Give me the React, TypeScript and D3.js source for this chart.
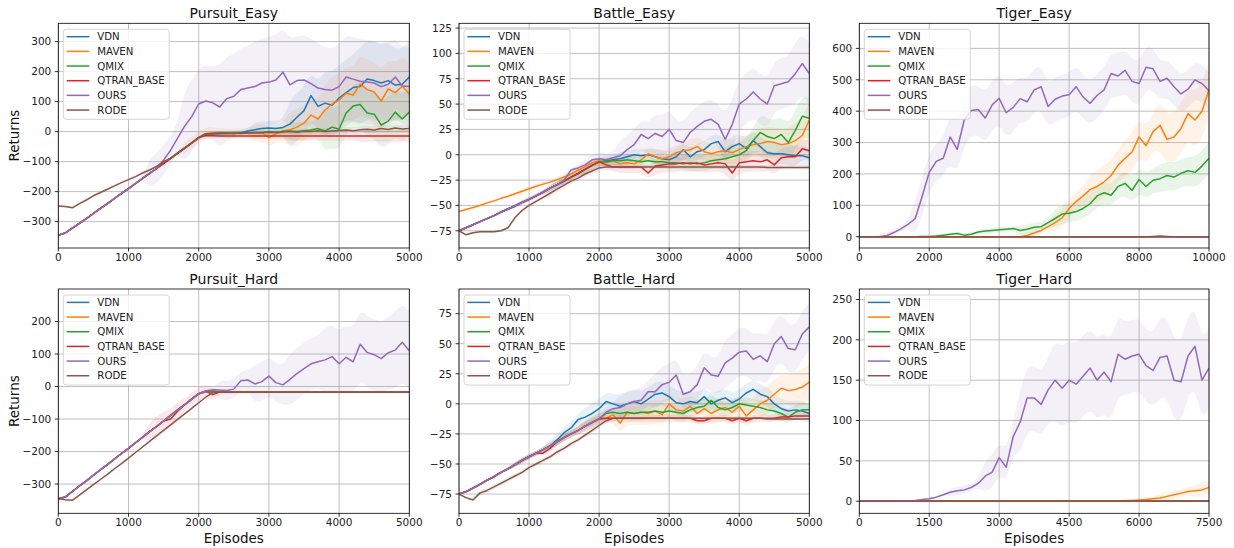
import React from 'react';
import * as d3 from 'd3';

const NAMES = ['VDN', 'MAVEN', 'QMIX', 'QTRAN_BASE', 'OURS', 'RODE'];
const COLORS = ['#1f77b4', '#ff7f0e', '#2ca02c', '#d62728', '#9467bd', '#8c564b'];

// ---------------- Pursuit_Easy (step 100, 0..5000) ----------------
const peRamp = [-345,-338,-322,-306,-290,-273,-256,-240,-223,-206,-190,-173,-156,-139,-123,-106,-89,-72,-55,-38,-20];
const peVDN = [...peRamp, -10,-8,-7,-6,-6,-4,2,6,10,12, 10,14,25,48,70,120,84,95,88,112, 130,147,150,175,170,162,170,155,158,182];
const peMAVEN = [...peRamp, -6,-5,-5,-4,-6,-5,-4,-5,-3,-20, -8,2,6,15,28,55,42,72,92,105, 128,122,158,140,132,102,142,130,152,125];
const peQMIX = [...peRamp, -7,-6,-5,-6,-5,-6,-5,-4,-3,0, -2,0,2,0,3,5,10,2,15,8, 62,85,90,62,58,22,35,65,42,65];
const peQTRAN = [...peRamp, -13,-14,-15,-15,-15,-15,-15,-15,-15,-15, -15,-15,-15,-15,-15,-15,-15,-15,-15,-15, -15,-15,-15,-15,-15,-15,-15,-15,-15,-15];
const peOURS = [-345,-338,-322,-306,-290,-273,-256,-240,-223,-206,-190,-173,-156,-139,-123, -95,-62,-22,18,50,92, 102,96,82,110,118,140,145,150,162,165, 172,198,156,170,172,160,145,140,138,150, 182,175,168,165,162,150,158,182,152,150];
const peRODE = [-248,-250,-254,-240,-228,-214,-203,-192,-181,-170,-160,-150,-138,-128,-116,-100,-89,-72,-55,-38,-20, -8,-6,-5,-5,-6,-4,-5,-3,-4,-2, -3,-1,0,-2,1,0,3,0,2,4, 5,3,6,8,5,10,7,12,9,10];
const peBands = [
  [3,3,3,3,5,8,25,80,110,130,120],
  [3,3,3,3,20,15,30,60,90,100,100],
  [3,3,3,3,5,8,15,30,70,80,80],
  [3,3,3,3,5,8,10,15,15,20,20],
  [3,3,3,50,120,140,150,150,140,140,130],
  [3,3,3,3,5,5,8,10,10,12,12],
];

// ---------------- Battle_Easy (step 100, 0..5000) ----------------
const beRamp = [-75,-72,-69,-66,-63,-60,-56.5,-53.5,-50.5,-47,-44,-40.5,-37,-33,-29.5,-26,-22,-18.5,-14.5,-10.5,-7];
const beVDN = [...beRamp, -6,-5,-4,-2,0,-1,0,-2,-4,-5, -2,5,-2,3,5,11,13,3,8,11, 6,14,8,2,1,1,0,-1,-1,-3];
const beMAVEN = [-56,-54,-52,-50,-47.5,-45.5,-43,-41,-38.5,-36,-33.5,-31,-29,-27,-24.5,-22, -19,-15,-12,-8,-6, -8,-6,-9,-8,-9,-5,1,-2,-4,-2, 2,4,5,8,3,1,3,4,2,5, 8,10,11,13,12,10,11,14,19,34];
const beQMIX = [...beRamp, -7,-6,-6,-5,-6,-7,-6,-7,-7,-8, -8,-9,-8,-9,-8,-6,-5,-4,-2,0, 4,14,22,18,16,20,12,24,38,36];
const beQTRAN = [...beRamp, -10,-12,-12,-12,-12,-12,-18,-11,-10,-9, -9,-8,-9,-8,-10,-9,-8,-9,-18,-8, -7,-6,-7,-5,-10,-3,-2,-2,6,4];
const beOURS = [-75,-72,-69,-66,-63,-60,-56.5,-53.5,-50.5,-47,-44,-40.5,-37,-33,-29.5, -25,-15,-13,-10,-5,-4, -5,-3,-1,5,10,20,16,21,18,25, 14,12,22,28,33,35,30,15,30,50, 55,62,55,50,68,70,72,80,90,80];
const beRODE = [-75,-79,-77,-76,-76,-76,-75,-72,-62,-55,-50,-46,-42,-38,-34,-30,-26,-23,-19,-16,-13, -12,-12,-12,-12,-12,-12,-12,-12,-12,-12, -12,-12,-12,-12,-12,-12,-12,-12,-12,-12, -12,-12,-12,-12.5,-12.5,-12.5,-12.5,-12.5,-12.5,-12.5];
const beBands = [
  [1,1,2,3,5,6,8,8,10,10,10],
  [1,1,2,3,4,6,8,10,12,15,18],
  [1,1,2,3,4,6,6,8,12,18,20],
  [1,1,2,3,4,6,8,8,10,10,10],
  [1,1,2,3,6,15,20,20,25,25,30],
  [1,1,2,3,3,2,2,2,2,2,2],
];

// ---------------- Tiger_Easy (step 200, 0..10000) ----------------
const teVDN = [0,0,0,0,0,0,0,0,0,0, 0,0,0,0,0,0,0,0,0,0, 0,0,0,0,0,0,0,0,0,0, 0,0,0,0,0,0,0,0,0,0, 0,0,0,0,0,0,0,0,0,0, 0];
const teMAVEN = [0,0,0,0,0,0,0,0,0,0, 0,0,0,0,0,0,0,0,0,0, 0,0,0,0, 4,12,20,32,45,60,90,112,130,150,160,175,195,228,250,270,318,290,335,355,310,318,345,392,372,400,470];
const teQMIX = [0,0,0,0,0,0,0,0,0,1,1, 2,5,8,10,5,8,15,18,20,22, 24,26,20,24,30,32,45,58,72,75, 80,90,105,130,140,132,160,170,148,182, 160,180,185,195,190,202,210,205,225,250];
const teQTRAN = [0,0,0,0,0,0,0,0,0,0, 0,0,0,0,0,0,0,0,0,0, 0,0,0,0,0,0,0,0,0,0, 0,0,0,0,0,0,0,0,0,0, 0,0,0,0,0,0,0,0,0,0, 0];
const teOURS = [0,0,0,1,4,14,26,40,58,130,205, 240,250,318,278,372,402,405,378,420,441, 395,412,440,430,468,478,415,438,448,452, 478,445,425,450,468,520,512,530,495,488, 540,535,495,505,478,455,470,500,488,465];
const teRODE = [0,0,0,0,0,0,0,0,0,0, 0,0,0,0,0,0,0,0,0,0, 0,0,0,0,0,0,0,0,0,0, 0,0,0,0,0,0,0,0,0,0, 0,0,1,2,1,0,0,0,0,0, 0];
const teBands = [
  [1,1,1,1,1,1,1,1,1,1,1],
  [0,0,0,0,0,10,30,50,60,80,90],
  [0,0,3,5,8,15,30,35,40,45,50],
  [1,1,1,1,1,1,1,1,1,1,1],
  [0,10,60,80,80,70,70,70,70,60,60],
  [1,1,1,1,1,1,1,1,1,1,1],
];

// ---------------- Pursuit_Hard (step 100, 0..5000) ----------------
const phRamp = [-345,-340,-323,-306,-290,-273,-256,-240,-223,-206,-190,-173,-156,-139,-123,-106,-89,-72,-56,-39,-22];
const phVDN = [...phRamp, -16,-15,-17,-18,-18,-18,-18,-18,-18,-18, -18,-18,-18,-18,-18,-18,-18,-18,-18,-18, -18,-18,-18,-18,-18,-18,-18,-18,-18,-18];
const phMAVEN = [...phRamp, -16,-15,-17,-18,-18,-18,-18,-18,-18,-18, -18,-18,-18,-18,-18,-18,-18,-18,-18,-18, -18,-18,-18,-18,-18,-18,-18,-18,-18,-18];
const phQMIX = [...phRamp, -15,-14,-17,-18,-18,-18,-18,-18,-18,-18, -18,-18,-18,-18,-18,-18,-18,-18,-18,-18, -18,-18,-18,-18,-18,-18,-18,-18,-18,-18];
const phQTRAN = [-345,-340,-323,-306,-290,-273,-256,-240,-223,-206,-190,-173,-156,-139,-123,-106,-100,-76,-56,-39,-22, -14,-25,-17,-18,-18,-18,-18,-18,-18,-18, -18,-18,-18,-18,-18,-18,-18,-18,-18,-18, -18,-18,-18,-18,-18,-18,-18,-18,-18,-18];
const phOURS = [...phRamp, -14,-10,-11,-12,-8,18,20,8,15,32, 12,5,22,40,55,70,76,82,92,70, 90,76,130,105,98,86,104,112,136,110];
const phRODE = [-345,-348,-350,-334,-318,-302,-286,-270,-253,-237,-220,-203,-186,-169,-152,-135,-118,-101,-84,-67,-50, -33,-18,-18,-18,-18,-18,-18,-18,-18,-18, -18,-18,-18,-18,-18,-18,-18,-18,-18,-18, -18,-18,-18,-18,-18,-18,-18,-18,-18,-18];
const phBands = [
  [2,2,2,2,2,2,2,2,2,2,2],
  [2,2,2,2,2,2,2,2,2,2,2],
  [2,2,2,2,2,2,2,2,2,2,2],
  [2,2,3,30,20,5,3,3,3,3,3],
  [2,2,2,3,5,30,60,80,100,110,120],
  [2,2,2,2,2,2,2,2,2,2,2],
];

// ---------------- Battle_Hard (step 100, 0..5000) ----------------
const bhRamp = [-75,-73,-70,-67,-63.5,-60.5,-57,-54,-50.5,-47,-44,-41,-38,-35,-31.5,-28,-25,-22,-18.5,-15.5,-12.5];
const bhVDN = [-75,-73,-70,-67,-63.5,-60.5,-57,-54,-50.5,-47,-44,-41,-38,-35, -30,-24,-20,-13,-11,-8,-4, 2,0,-2,0,2,0,4,8,9,6, 1,0,2,1,6,0,3,5,1,4, 9,12,8,6,0,-4,-6,-5,-6,-8];
const bhMAVEN = [...bhRamp, -12,-9,-16,-7,-8,-7,-8,-6,-9,0, -5,-6,-2,-8,-4,-8,-5,-3,-7,-2, -10,-5,0,3,8,13,11,12,14,18];
const bhQMIX = [...bhRamp, -8,-7,-8,-7,-8,-7,-7,-6,-7,-6, -7,-8,-5,-3,-2,3,-3,-5,-3,0, -1,-2,-3,-5,-6,-8,-11,-7,-5,-5];
const bhQTRAN = [-75,-73,-70,-67,-63.5,-60.5,-57,-54,-50.5,-47,-44,-41,-41,-37,-31.5,-28,-25,-22,-18.5,-15.5,-12.5, -12,-12,-12,-12,-12,-12,-12,-12,-12,-12, -12,-12,-12,-14,-14,-12,-12,-12,-14,-12, -14,-12,-12,-12,-12,-11,-11,-10,-10,-10];
const bhOURS = [...bhRamp, -7,-4,-3,0,2,3,10,10,16,18, 24,8,10,16,30,24,23,34,38,43, 44,37,40,35,50,56,46,45,58,64];
const bhRODE = [-75,-78,-80,-74,-72,-69,-66,-63,-60,-57,-53,-50,-47,-44,-40,-37,-33,-30,-26,-22,-18, -14,-12,-12,-12,-12,-12,-12,-12,-12,-12, -12,-12,-12,-12,-12,-12,-12,-12,-12,-12, -12,-12,-12,-12.5,-12.5,-12.5,-12.5,-12.5,-12.5,-12.5];
const bhBands = [
  [1,1,2,5,8,10,10,8,8,8,8],
  [1,1,2,3,5,10,10,10,10,12,15],
  [1,1,2,3,4,6,6,6,6,6,6],
  [1,1,2,3,3,3,3,3,3,3,3],
  [1,1,2,3,5,10,15,15,20,20,20],
  [1,2,2,2,2,1,1,1,1,1,1],
];

// ---------------- Tiger_Hard (step 150, 0..7500) ----------------
const thVDN = [0,0,0,0,0,0,0,0,0,0, 0,0,0,0,0,0,0,0,0,0, 0,0,0,0,0,0,0,0,0,0, 0,0,0,0,0,0,0,0,0,0, 0,0,0,0,0,0,0,0,0,0, 0];
const thMAVEN = [0,0,0,0,0,0,0,0,0,0, 0,0,0,0,0,0,0,0,0,0, 0,0,0,0,0,0,0,0,0,0, 0,0,0,0,0,0,0, 0.3,0.6,1,1.5,2,3,4,6,8,10,12,13,14,17];
const thQMIX = [0,0,0,0,0,0,0,0,0,0, 0,0,0,0,0,0,0,0,0,0, 0,0,0,0,0,0,0,0,0,0, 0,0,0,0,0,0,0,0,0,0, 0,0,0,0,0,0,0,0,0,0, 0];
const thQTRAN = [0,0,0,0,0,0,0,0,0,0, 0,0,0,0,0,0,0,0,0,0, 0,0,0,0,0,0,0,0,0,0, 0,0,0,0,0,0,0,0,0,0, 0,0,0,0,0,0,0,0,0,0, 0];
const thOURS = [0,0,0,0,0,0,0, 0.5,1,2,3,5,8,11,13,14,17, 22,31,36,54,42,80,98,128,128,120, 138,150,140,150,145,155,165,150,160,148, 182,176,180,182,168,162,178,180,150,148, 180,192,150,165];
const thRODE = [0,0,0,0,0,0,0,0,0,0, 0,0,0,0,0,0,0,0,0,0, 0,0,0,0,0,0,0,0,0,0, 0,0,0,0,0,0,0,0,0,0, 0,0,0,0,0,0,0,0,0,0, 0];
const thBands = [
  [0,0,0,0,0,0,0,0,0,0,0],
  [0,0,0,0,0,0,0,0,2,5,8],
  [0,0,0,0,0,0,0,0,0,0,0],
  [0,0,0,0,0,0,0,0,0,0,0],
  [0,0,1,5,20,40,50,50,45,50,50],
  [0,0,0,0,0,0,0,0,0,0,0],
];

const PANELS = [
  { title: 'Pursuit_Easy', xMax: 5000, step: 100, xTicks: [0,1000,2000,3000,4000,5000], yDomain: [-388, 361], yTicks: [-300,-200,-100,0,100,200,300],
    series: [peVDN, peMAVEN, peQMIX, peQTRAN, peOURS, peRODE], bands: peBands, col: 0, row: 0 },
  { title: 'Battle_Easy', xMax: 5000, step: 100, xTicks: [0,1000,2000,3000,4000,5000], yDomain: [-92, 129.7], yTicks: [-75,-50,-25,0,25,50,75,100,125],
    series: [beVDN, beMAVEN, beQMIX, beQTRAN, beOURS, beRODE], bands: beBands, col: 1, row: 0 },
  { title: 'Tiger_Easy', xMax: 10000, step: 200, xTicks: [0,2000,4000,6000,8000,10000], yDomain: [-36, 680], yTicks: [0,100,200,300,400,500,600],
    series: [teVDN, teMAVEN, teQMIX, teQTRAN, teOURS, teRODE], bands: teBands, col: 2, row: 0 },
  { title: 'Pursuit_Hard', xMax: 5000, step: 100, xTicks: [0,1000,2000,3000,4000,5000], yDomain: [-390, 300], yTicks: [-300,-200,-100,0,100,200],
    series: [phVDN, phMAVEN, phQMIX, phQTRAN, phOURS, phRODE], bands: phBands, col: 0, row: 1 },
  { title: 'Battle_Hard', xMax: 5000, step: 100, xTicks: [0,1000,2000,3000,4000,5000], yDomain: [-91, 95.5], yTicks: [-75,-50,-25,0,25,50,75],
    series: [bhVDN, bhMAVEN, bhQMIX, bhQTRAN, bhOURS, bhRODE], bands: bhBands, col: 1, row: 1 },
  { title: 'Tiger_Hard', xMax: 7500, step: 150, xTicks: [0,1500,3000,4500,6000,7500], yDomain: [-15, 263], yTicks: [0,50,100,150,200,250],
    series: [thVDN, thMAVEN, thQMIX, thQTRAN, thOURS, thRODE], bands: thBands, col: 2, row: 1 },
];

const COLS = [{ l: 58.3, r: 409.3 }, { l: 459, r: 809.3 }, { l: 859.3, r: 1209 }];
const ROWS = [{ t: 23.3, b: 248 }, { t: 289, b: 513.3 }];
const FONT = '"DejaVu Sans", Verdana, sans-serif';

const fmt = (v: number) => (v < 0 ? '\u2212' + Math.abs(v) : String(v));

function Panel({ p, idx }: { p: any; idx: number }) {
  const { l, r } = COLS[p.col];
  const { t, b } = ROWS[p.row];
  const x = d3.scaleLinear().domain([0, p.xMax]).range([l, r]);
  const y = d3.scaleLinear().domain(p.yDomain).range([b, t]);
  const line = d3.line<number>().x((_, i) => x(i * p.step)).y((d) => y(d));
  const clipId = 'clip' + idx;
  return (
    <g>
      <defs>
        <clipPath id={clipId}>
          <rect x={l} y={t} width={r - l} height={b - t} />
        </clipPath>
      </defs>
      {p.xTicks.map((v: number) => (
        <line key={'gx' + v} x1={x(v)} x2={x(v)} y1={t} y2={b} stroke="#b0b0b0" strokeWidth={0.8} />
      ))}
      {p.yTicks.map((v: number) => (
        <line key={'gy' + v} x1={l} x2={r} y1={y(v)} y2={y(v)} stroke="#b0b0b0" strokeWidth={0.8} />
      ))}
      <g clipPath={`url(#${clipId})`}>
        {p.series.map((s: number[], k: number) => {
          const w = p.bands[k];
          const area = d3
            .area<number>()
            .x((_, i) => x(i * p.step))
            .y0((d, i) => y(d - w[Math.round(i / 5)]))
            .y1((d, i) => y(d + w[Math.round(i / 5)]))
            .curve(d3.curveBasis);
          return <path key={'b' + k} d={area(s) || ''} fill={COLORS[k]} fillOpacity={0.1} stroke="none" />;
        })}
        {p.series.map((s: number[], k: number) => (
          <path key={'l' + k} d={line(s) || ''} fill="none" stroke={COLORS[k]} strokeWidth={1.5} strokeLinejoin="round" />
        ))}
      </g>
      <rect x={l} y={t} width={r - l} height={b - t} fill="none" stroke="#000" strokeWidth={0.8} />
      {p.xTicks.map((v: number) => (
        <g key={'tx' + v}>
          <line x1={x(v)} x2={x(v)} y1={b} y2={b + 3.5} stroke="#000" strokeWidth={0.8} />
          <text x={x(v)} y={b + 13} textAnchor="middle" fontSize={10.5} fontFamily={FONT} fill="#222">
            {fmt(v)}
          </text>
        </g>
      ))}
      {p.yTicks.map((v: number) => (
        <g key={'ty' + v}>
          <line x1={l - 3.5} x2={l} y1={y(v)} y2={y(v)} stroke="#000" strokeWidth={0.8} />
          <text x={l - 7} y={y(v) + 3.8} textAnchor="end" fontSize={10.5} fontFamily={FONT} fill="#222">
            {fmt(v)}
          </text>
        </g>
      ))}
      <text x={(l + r) / 2} y={t - 5} textAnchor="middle" fontSize={14} fontFamily={FONT} fill="#111">
        {p.title}
      </text>
      {p.col === 0 && (
        <text
          transform={`translate(13.5,${(t + b) / 2}) rotate(-90)`}
          textAnchor="middle"
          dominantBaseline="central"
          fontSize={13.5}
          fontFamily={FONT}
          fill="#111"
        >
          Returns
        </text>
      )}
      {p.row === 1 && (
        <text x={(l + r) / 2} y={543} textAnchor="middle" fontSize={13.5} fontFamily={FONT} fill="#111">
          Episodes
        </text>
      )}
      <g>
        <rect x={l + 5} y={t + 6} width={106} height={90} rx={3} fill="#fff" fillOpacity={0.8} stroke="#cccccc" strokeWidth={0.8} />
        {NAMES.map((n, k) => {
          const cy = t + 13.4 + k * 14.67;
          return (
            <g key={'lg' + k}>
              <line x1={l + 8.4} x2={l + 31} y1={cy} y2={cy} stroke={COLORS[k]} strokeWidth={1.5} />
              <text x={l + 39} y={cy + 3.7} fontSize={10.2} fontFamily={FONT} fill="#222">
                {n}
              </text>
            </g>
          );
        })}
      </g>
    </g>
  );
}

export default function App() {
  return (
    <svg width={1234} height={548} style={{ position: 'absolute', left: 0, top: 0, background: '#fff' }}>
      <rect x={0} y={0} width={1234} height={548} fill="#fff" />
      {PANELS.map((p, i) => (
        <Panel key={i} p={p} idx={i} />
      ))}
    </svg>
  );
}
